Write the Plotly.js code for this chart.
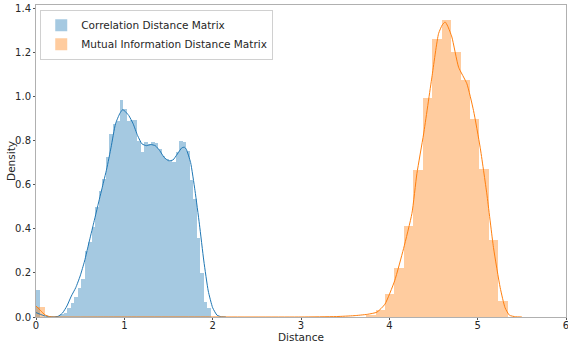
<!DOCTYPE html>
<html>
<head>
<meta charset="utf-8">
<script src="https://cdn.plot.ly/plotly-3.0.1.min.js"></script>
<style>html,body{margin:0;padding:0;background:#fff;}#chart{width:568px;height:346px;}</style>
</head>
<body>
<div id="chart"></div>
<script>
// Histogram bins (density)
const seriesNames = ["Correlation Distance Matrix", "Mutual Information Distance Matrix"];
const blueBinStart = 0;
const blueBinWidth = 0.0396;
const blueHeights = [0.123, 0.0, 0.0, 0.0, 0.0, 0.0, 0.003, 0.012, 0.02, 0.042,
  0.065, 0.09, 0.133, 0.171, 0.30, 0.338, 0.406, 0.497, 0.573, 0.626,
  0.724, 0.83, 0.876, 0.891, 0.982, 0.944, 0.891, 0.894, 0.894, 0.80,
  0.747, 0.792, 0.785, 0.792, 0.788, 0.762, 0.732, 0.717, 0.706, 0.701,
  0.747, 0.80, 0.792, 0.755, 0.62, 0.535, 0.36, 0.20, 0.07, 0.04];
const orangeBinStart = 0;
const orangeBinWidth = 0.1068;
const orangeHeights = [0.045, 0, 0, 0, 0, 0, 0, 0, 0, 0,
  0, 0, 0, 0, 0, 0, 0, 0, 0, 0,
  0, 0, 0, 0, 0, 0, 0, 0, 0, 0,
  0, 0, 0, 0, 0, 0.008, 0.03, 0.103, 0.224, 0.414,
  0.667, 0.992, 1.259, 1.345, 1.20, 1.073, 0.899, 0.671, 0.349, 0.073];

// KDE curves
const blueKdeX = [0, 0.05, 0.1, 0.15, 0.2, 0.25, 0.3, 0.35, 0.4, 0.45, 0.5, 0.55, 0.6, 0.65, 0.7, 0.75, 0.8, 0.85, 0.9, 0.95, 0.98, 1.0, 1.05, 1.1, 1.15, 1.2, 1.25, 1.3, 1.35, 1.4, 1.45, 1.5, 1.55, 1.6, 1.65, 1.68, 1.7, 1.75, 1.8, 1.85, 1.9, 1.95, 2.0, 2.05, 2.1, 2.15];
const blueKdeY = [0.02, 0.012, 0.005, 0.002, 0.001, 0.003, 0.018, 0.05, 0.095, 0.133, 0.186, 0.254, 0.338, 0.421, 0.505, 0.588, 0.671, 0.77, 0.876, 0.924, 0.94, 0.936, 0.914, 0.876, 0.823, 0.785, 0.777, 0.782, 0.777, 0.755, 0.724, 0.709, 0.712, 0.739, 0.767, 0.77, 0.762, 0.701, 0.573, 0.421, 0.254, 0.118, 0.042, 0.008, 0.001, 0.0];
const orangeKdeX = [0, 0.05, 0.1, 0.15, 0.2, 1.0, 2.0, 3.0, 3.4, 3.6, 3.75, 3.86, 3.95, 4.06, 4.161, 4.256, 4.312, 4.388, 4.482, 4.557, 4.6, 4.632, 4.66, 4.708, 4.784, 4.878, 4.953, 5.028, 5.104, 5.179, 5.255, 5.31, 5.36, 5.43, 5.5];
const orangeKdeY = [0.05, 0.03, 0.01, 0.002, 0.0, 0.0, 0.0, 0.0, 0.002, 0.006, 0.012, 0.022, 0.058, 0.164, 0.31, 0.47, 0.65, 0.83, 1.088, 1.285, 1.325, 1.338, 1.32, 1.27, 1.133, 1.058, 0.936, 0.77, 0.558, 0.315, 0.133, 0.042, 0.008, 0.001, 0.0];

const blueCenters = blueHeights.map((_, i) => blueBinStart + (i + 0.5) * blueBinWidth);
const orangeCenters = orangeHeights.map((_, i) => orangeBinStart + (i + 0.5) * orangeBinWidth);

const BLUE = "#1f77b4", ORANGE = "#ff7f0e";
const font = {family: "DejaVu Sans, sans-serif", size: 10.5, color: "#262626"};
const tickFont = {family: "DejaVu Sans, sans-serif", size: 10, color: "#262626"};

const traces = [
  {type: "bar", x: blueCenters, y: blueHeights, width: blueBinWidth, name: seriesNames[0],
   marker: {color: "rgba(31,119,180,0.4)", line: {width: 0}}, hoverinfo: "skip"},
  {type: "bar", x: orangeCenters, y: orangeHeights, width: orangeBinWidth, name: seriesNames[1],
   marker: {color: "rgba(255,127,14,0.4)", line: {width: 0}}, hoverinfo: "skip"},
  {type: "scatter", mode: "lines", x: blueKdeX, y: blueKdeY, showlegend: false,
   line: {color: BLUE, width: 1, shape: "spline", smoothing: 0.5}, hoverinfo: "skip"},
  {type: "scatter", mode: "lines", x: orangeKdeX, y: orangeKdeY, showlegend: false,
   line: {color: ORANGE, width: 1, shape: "spline", smoothing: 0.5}, hoverinfo: "skip"}
];

const layout = {
  width: 568, height: 346,
  margin: {l: 36, r: 2, t: 5, b: 29},
  paper_bgcolor: "#fff", plot_bgcolor: "#fff",
  font: font,
  barmode: "overlay", bargap: 0,
  showlegend: true,
  legend: {x: 0.008, y: 0.985, xanchor: "left", yanchor: "top", bgcolor: "rgba(255,255,255,0.85)",
           bordercolor: "#d0d0d0", borderwidth: 1, font: font,
           tracegroupgap: 0, itemwidth: 30},
  xaxis: {range: [0, 6], tickvals: [0, 1, 2, 3, 4, 5, 6], ticktext: ["0","1","2","3","4","5","6"],
          showgrid: false, zeroline: false, showline: true, mirror: true, linecolor: "#b0b0b0", linewidth: 1,
          ticks: "outside", ticklen: 2, tickcolor: "#555", tickfont: tickFont, ticklabeloverflow: "allow",
          automargin: false,
          title: {text: "Distance", font: font, standoff: 0}},
  yaxis: {range: [0, 1.415], tickvals: [0, 0.2, 0.4, 0.6, 0.8, 1.0, 1.2, 1.4], tickformat: ".1f",
          showgrid: false, zeroline: false, showline: true, mirror: true, linecolor: "#b0b0b0", linewidth: 1,
          ticks: "outside", ticklen: 2, tickcolor: "#555", tickfont: tickFont,
          automargin: false,
          title: {text: "Density", font: font, standoff: 0}}
};

Plotly.newPlot("chart", traces, layout, {displayModeBar: false, staticPlot: true}).then(function () {
  // Nudge tick labels and axis titles to match the reference's placement (text stays real text)
  document.querySelectorAll(".xtick text").forEach(function (el) {
    const t = el.getAttribute("transform") || "";
    el.setAttribute("transform", t + " translate(0,-3)");
  });
  const xt = document.querySelector(".g-xtitle text");
  if (xt) { xt.setAttribute("y", "338"); }
  const yt = document.querySelector(".g-ytitle text");
  if (yt) {
    const yc = yt.getAttribute("y");
    yt.setAttribute("x", "14.5");
    yt.setAttribute("transform", "rotate(-90,14.5," + yc + ")");
  }
});
</script>
</body>
</html>
